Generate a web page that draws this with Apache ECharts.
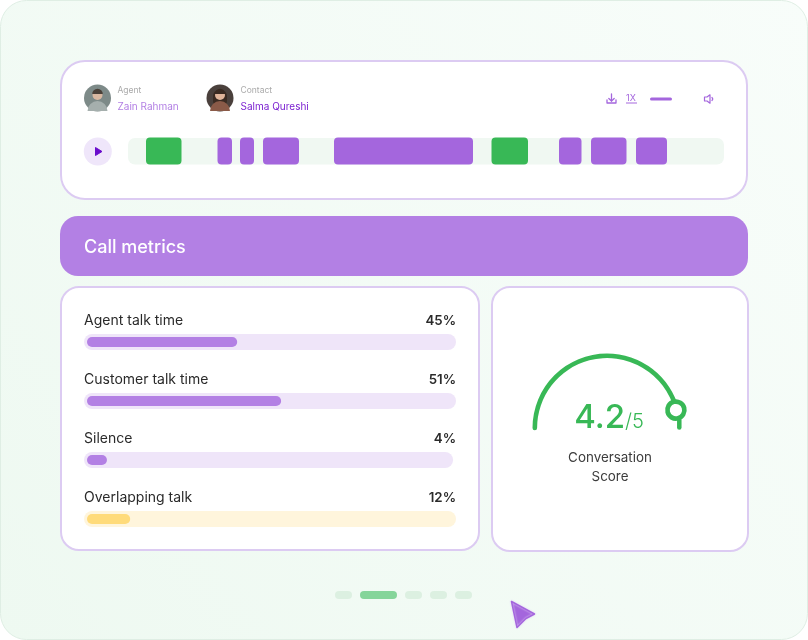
<!DOCTYPE html>
<html><head><meta charset="utf-8">
<style>html,body{margin:0;padding:0;background:#fff}#c{width:808px;height:640px}</style>
<script src="https://cdn.jsdelivr.net/npm/echarts@6/dist/echarts.min.js"></script>
</head><body><div id="c"></div>
<script>
// timeline
const timelineLength = 596;
const segmentStart = [18, 89.5, 112, 135, 206, 363.5, 431, 463, 508];
const segmentEnd   = [53.5, 104, 126, 171, 345, 400, 453.5, 498.5, 539];
const segmentKind  = ['g','p','p','p','p','g','p','p','p'];
// metrics
const metricNames = ['Agent talk time','Customer talk time','Silence','Overlapping talk'];
const metricLabels = ['45%','51%','4%','12%'];
const metricFill = [40.7, 52.6, 5.4, 11.7];
const metricTrackEnd = [100, 100, 99.2, 100];
const metricTrackStart = -0.8;
// score
const scoreValue = 4.2;
const scoreMax = 5;
const scoreText = '4.2';
const scoreName = 'Conversation\nScore';
// texts
const headerTitle = 'Call metrics';
const agentName = 'Zain Rahman', contactName = 'Salma Qureshi';

const FONT = 'Inter';
const PURPLE = '#a466dd', GREEN = '#38b856', LIGHT = '#b380e4', BORDER = '#dccbf2';
const card = (x,y,w,h,r) => ({type:'rect',z:-5,shape:{x,y,width:w,height:h,r},style:{fill:'#fff',stroke:BORDER,lineWidth:2}});
const txt = (x,y,t,size,fill,extra) => ({type:'text',z:5,x,y,style:Object.assign({text:t,fontFamily:FONT,fontSize:size,fill,verticalAlign:'middle'},extra||{})});
const dash = (x,w,f) => ({type:'rect',z:-5,shape:{x,y:591,width:w,height:8,r:4},style:{fill:f}});
const avatar = (cx,cy,bg,skin,shirt,hair,longHair) => [
  {type:'circle',z:1,shape:{cx,cy,r:13.5},style:{fill:bg}},
  ...(longHair?[{type:'rect',z:2,shape:{x:cx-7,y:cy-8,width:14,height:17,r:6},style:{fill:hair}}]:[]),
  {type:'sector',z:2,shape:{cx,cy:cy+13,r:10,startAngle:Math.PI,endAngle:2*Math.PI},style:{fill:shirt}},
  {type:'circle',z:3,shape:{cx,cy:cy-3,r:5},style:{fill:skin}},
  {type:'sector',z:4,shape:{cx,cy:cy-4,r:5.3,startAngle:Math.PI,endAngle:2*Math.PI},style:{fill:hair}}
];
const icon = (points,stroke) => ({type:'polyline',z:5,shape:{points},style:{fill:'none',stroke,lineWidth:1.3,lineCap:'round',lineJoin:'round'}});

const graphic = [
  {type:'rect',z:-10,shape:{x:0.5,y:0.5,width:807,height:639,r:26},
   style:{stroke:'#dfeee4',lineWidth:1,fill:{type:'linear',x:0,y:1,x2:1,y2:0,colorStops:[{offset:0,color:'#eef9f1'},{offset:1,color:'#f8fdfa'}]}}},
  card(61,61,686,138,24),
  {type:'rect',z:-5,shape:{x:60,y:216,width:688,height:60,r:18},style:{fill:LIGHT}},
  txt(84,247.5,headerTitle,18,'#fff',{fontWeight:500}),
  card(61,287,418,263,18),
  card(492,287,256,264,18),
  ...avatar(97.5,98,'#7d8a88','#d8b7a0','#a5afad','#4a4038',false),
  ...avatar(220,98,'#4a403c','#e0b49a','#8a5a48','#3a2a22',true),
  txt(117.5,90,'Agent',8.5,'#aaaaaa'),
  txt(117.5,107,agentName,10,LIGHT),
  txt(240.5,90,'Contact',8.5,'#aaaaaa'),
  txt(240.5,107,contactName,10,'#7a1fd0'),
  {type:'circle',z:1,shape:{cx:97.8,cy:151.5,r:14},style:{fill:'#efe6fa'}},
  {type:'polygon',z:2,shape:{points:[[95.5,147.5],[102,151.5],[95.5,155.5]]},style:{fill:'#6a0dcc',stroke:'#6a0dcc',lineWidth:1,lineJoin:'round'}},
  icon([[611.5,94],[611.5,101]],PURPLE), icon([[608.8,98.5],[611.5,101],[614.2,98.5]],PURPLE),
  icon([[607,100],[607,103],[616,103],[616,100]],PURPLE),
  txt(626,98,'1X',9,PURPLE),
  {type:'rect',z:5,shape:{x:626,y:102.5,width:11,height:1},style:{fill:PURPLE}},
  {type:'rect',z:5,shape:{x:650,y:97.5,width:22,height:3,r:1.5},style:{fill:PURPLE}},
  {type:'polygon',z:5,shape:{points:[[704.5,97],[707,97],[710,94.8],[710,103.2],[707,101],[704.5,101]]},style:{fill:'none',stroke:PURPLE,lineWidth:1.2,lineJoin:'round'}},
  icon([[712,97.5],[712.8,99],[712,100.5]],PURPLE),
  // stem under the score knob
  {type:'line',z:1,shape:{x1:679.3,y1:420,x2:679.3,y2:427.5},style:{stroke:GREEN,lineWidth:4.5,lineCap:'round'}},
  dash(335,17,'#dcf0e1'), dash(360,37,'#85d59a'), dash(405,17,'#dcf0e1'), dash(430,17,'#dcf0e1'), dash(455,17,'#dcf0e1'),
  {type:'polygon',z:5,shape:{points:[[511.5,601.5],[534.5,614],[526,618.5],[517,627.5]]},
   style:{fill:PURPLE,stroke:PURPLE,lineWidth:1.5,lineJoin:'round',shadowColor:'#e3d0f6',shadowBlur:2}}
];

const trackData = metricNames.map((n,i)=>[metricTrackStart, metricTrackEnd[i], i]);
const segData = segmentStart.map((s,i)=>[s, segmentEnd[i]]);
const gaugeBase = {type:'gauge',silent:true,center:[607,428],radius:74.5,startAngle:180,endAngle:-16.9,min:0,max:scoreMax,
  axisLine:{show:false,lineStyle:{width:4.6}},
  axisTick:{show:false},splitLine:{show:false},axisLabel:{show:false},anchor:{show:false}};

const option = {
  animation:false,
  graphic:{elements:graphic},
  grid:[
    {left:128,top:138,width:596,height:26.5},
    {left:87,top:312.5,width:369,height:236}
  ],
  xAxis:[
    {gridIndex:0,type:'value',min:0,max:timelineLength,show:false},
    {gridIndex:1,type:'value',min:0,max:100,show:false}
  ],
  yAxis:[
    {gridIndex:0,type:'category',data:['timeline'],show:false},
    {gridIndex:1,type:'category',data:metricNames,inverse:true,show:false}
  ],
  series:[
    {type:'bar',xAxisIndex:0,yAxisIndex:0,silent:true,z:2,barWidth:26.5,
     data:[timelineLength],itemStyle:{color:'#f0f8f2',borderRadius:7}},
    {type:'custom',xAxisIndex:0,yAxisIndex:0,silent:true,z:3,clip:false,data:segData,
     encode:{x:[0,1]},
     renderItem(p,api){
       const a=api.coord([api.value(0),0]), b=api.coord([api.value(1),0]);
       return {type:'rect',shape:{x:a[0],y:137.5,width:b[0]-a[0],height:27,r:4},
               style:{fill:segmentKind[p.dataIndex]==='g'?GREEN:PURPLE}};
     }},
    {type:'custom',xAxisIndex:1,yAxisIndex:1,silent:true,z:2,clip:false,data:trackData,
     encode:{x:[0,1],y:2},
     renderItem(p,api){
       const i=p.dataIndex, a=api.coord([api.value(0),api.value(2)]), b=api.coord([api.value(1),api.value(2)]);
       const end=api.coord([100,api.value(2)]);
       const base={fontFamily:FONT,fontSize:14,fill:'#2a2a2a',verticalAlign:'middle'};
       return {type:'group',children:[
         {type:'rect',shape:{x:a[0],y:a[1]-8,width:b[0]-a[0],height:16,r:8},style:{fill:i===3?'#fff5dc':'#efe5f9'}},
         {type:'text',x:a[0],y:a[1]-21,style:Object.assign({},base,{text:metricNames[i]})},
         {type:'text',x:end[0],y:a[1]-21,style:Object.assign({},base,{text:metricLabels[i],align:'right',fontWeight:600,fontSize:13.3})}
       ]};
     }},
    {type:'bar',xAxisIndex:1,yAxisIndex:1,silent:true,z:4,barWidth:10,
     data:metricFill.map((v,i)=>({value:v,itemStyle:{color:i===3?'#ffdb7a':LIGHT}})),
     itemStyle:{borderRadius:5}},
    Object.assign({},gaugeBase,{z:3,
     progress:{show:true,width:4.6,roundCap:true,itemStyle:{color:GREEN}},
     pointer:{show:false},
     title:{offsetCenter:[3,39.5],fontFamily:FONT,fontSize:13.4,color:'#3c3c3c',lineHeight:19},
     detail:{offsetCenter:[2,-9.5],valueAnimation:false,
       formatter:()=>`{a|${scoreText}}{b|/${scoreMax}}`,
       rich:{a:{fontFamily:FONT,fontSize:33,fontWeight:500,color:GREEN},
             b:{fontFamily:FONT,fontSize:20,fontWeight:300,color:GREEN,padding:[7,0,0,0]}}},
     data:[{value:scoreValue,name:scoreName}]}),
    Object.assign({},gaugeBase,{z:5,
     progress:{show:false},
     pointer:{show:true,icon:'circle',width:17,length:17,offsetCenter:[0,-62.7],
              itemStyle:{color:'#fff',borderColor:GREEN,borderWidth:4.7}},
     title:{show:false},detail:{show:false},
     data:[{value:scoreValue}]})
  ]
};
const chart = echarts.init(document.getElementById('c'),null,{renderer:'canvas'});
chart.setOption(option);
</script></body></html>
